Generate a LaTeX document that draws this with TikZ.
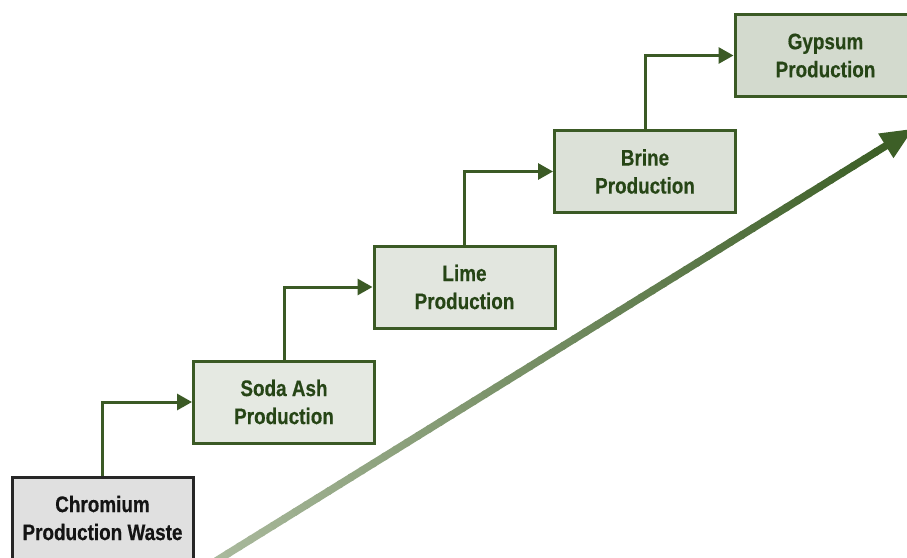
\documentclass[tikz,border=0pt]{standalone}
\usepackage{fontspec}
\setmainfont{Liberation Sans}[FakeStretch=0.84, BoldFeatures={FakeBold=0.4}]
\usetikzlibrary{arrows.meta,calc}
\definecolor{bordergreen}{HTML}{3B5A25}
\definecolor{textgreen}{HTML}{264516}
\definecolor{fillA}{HTML}{E5E9E2}
\definecolor{fillB}{HTML}{E2E6DF}
\definecolor{fillC}{HTML}{DCE1D8}
\definecolor{fillD}{HTML}{D3DACE}
\definecolor{fillgray}{HTML}{E0E0E0}
\definecolor{arrowlight}{HTML}{A9B99C}
\definecolor{arrowdark}{HTML}{3D5F27}
\tikzset{
  stepbox/.style={draw=bordergreen, line width=3pt, minimum width=181pt, minimum height=82pt,
    inner sep=0pt, align=center, text=textgreen,
    font=\fontsize{22.5pt}{28pt}\selectfont\bfseries},
  startbox/.style={stepbox, draw=black!85, text=black!92, fill=fillgray},
  conn/.style={draw=bordergreen, line width=3pt, -{Triangle[length=15pt,width=16pt]}},
}
\begin{document}
\begin{tikzpicture}[x=1pt,y=-1pt]
\useasboundingbox (0,0) rectangle (907,557);
\clip (0,0) rectangle (907,557);
\fill[white] (0,0) rectangle (907,557);
\node[startbox] (chrom) at (102.5,518) {Chromium\\Production Waste};
\node[stepbox, fill=fillA] (soda) at (284,402) {Soda Ash\\Production};
\node[stepbox, fill=fillB] (lime) at (464.5,287) {Lime\\Production};
\node[stepbox, fill=fillC] (brine) at (645,171.5) {Brine\\Production};
\node[stepbox, fill=fillD] (gyp) at (825.5,55.5) {Gypsum\\Production};
\draw[conn] (chrom.north) |- (soda.west);
\draw[conn] (soda.north) |- (lime.west);
\draw[conn] (lime.north) |- (brine.west);
\draw[conn] (brine.north) |- (gyp.west);
% big gradient arrow
\coordinate (bs) at (216,561);
\coordinate (be) at (913,129);
\coordinate (hb) at ($(be)!32pt!(bs)$);
\foreach \i in {0,...,59}{
  \pgfmathsetmacro{\ta}{\i/60}
  \pgfmathsetmacro{\tb}{(\i+1.2)/60}
  \pgfmathsetmacro{\pc}{100*\i/59}
  \draw[line width=7.5pt, color=arrowdark!\pc!arrowlight]
    ($(bs)!\ta!(hb)$) -- ($(bs)!\tb!(hb)$);
}
\fill[arrowdark] (be) -- ($(hb)!14.5pt!90:(be)$) -- ($(hb)!14.5pt!-90:(be)$) -- cycle;
\end{tikzpicture}
\end{document}
